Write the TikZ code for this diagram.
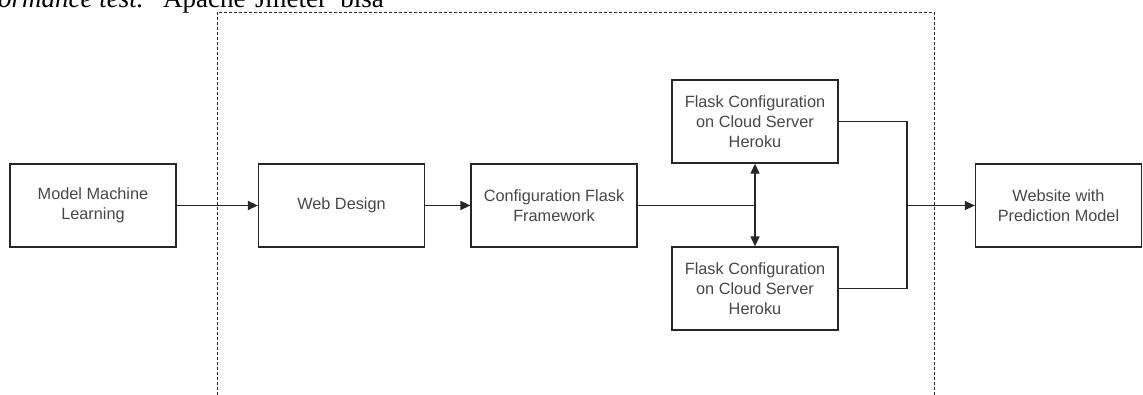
\documentclass[tikz,border=0pt]{standalone}
\usepackage{fontspec}
\setmainfont{Liberation Serif}
\newfontfamily\boxfont{Liberation Sans}
\usetikzlibrary{arrows.meta}
\begin{document}
\begin{tikzpicture}[x=1pt,y=-1pt,
  blk/.style={draw=black!85, line width=1.3pt, minimum width=166pt, minimum height=83pt, inner sep=2pt,
    align=center, font=\boxfont\fontsize{16.3}{20}\selectfont, text=black!72},
  conn/.style={draw=black!85, line width=1.3pt},
  tip/.tip={Triangle[length=10pt,width=9pt]},
  arr/.style={conn, -tip},
  frame/.style={draw=black!85, line width=1pt, dash pattern=on 3pt off 2pt},
  toptext/.style={anchor=base west, inner sep=0pt, font=\fontsize{27}{30}\selectfont}]
\useasboundingbox (0,0) rectangle (1143,394);
\clip (0,0) rectangle (1143,394);
% top text (cropped at the top edge, as in the reference)
\node[toptext] (t1) at (-2,7.5) {\itshape ormance test.};
\node[toptext] (t2) at (163,7.5) {Apache};
\node[toptext] (t3) at (255,7.5) {Jmeter};
\node[toptext, anchor=base east] (t4) at (384,7.5) {bisa};
% dashed frame
\coordinate (fbl) at (217,400);
\coordinate (ftl) at (217,12);
\coordinate (ftr) at (934,12);
\coordinate (fbr) at (934,400);
\draw[frame] (fbl) -- (ftl) -- (ftr) -- (fbr);
% boxes
\node[blk] (ml) at (93,205.5) {Model Machine\\Learning};
\node[blk] (wd) at (341.5,205.5) {Web Design};
\node[blk] (cf) at (554,205.5) {Configuration Flask\\Framework};
\node[blk] (ft) at (755,121.5) {Flask Configuration\\on Cloud Server\\Heroku};
\node[blk] (fb) at (755,288.5) {Flask Configuration\\on Cloud Server\\Heroku};
\node[blk] (ws) at (1058.5,205.5) {Website with\\Prediction Model};
% connectors
\draw[arr] (ml) -- (wd);
\draw[arr] (wd) -- (cf);
\coordinate (j) at (ft.south |- cf.east);
\draw[conn] (cf.east) -- (j);
\draw[conn, tip-tip] (ft.south) -- (fb.north);
\coordinate (r1) at (907,0 |- ft.east);
\coordinate (r2) at (907,0 |- fb.east);
\coordinate (rm) at (907,0 |- ws.west);
\draw[conn] (ft.east) -- (r1) -- (r2) -- (fb.east);
\draw[arr] (rm) -- (ws.west);
\end{tikzpicture}
\end{document}
